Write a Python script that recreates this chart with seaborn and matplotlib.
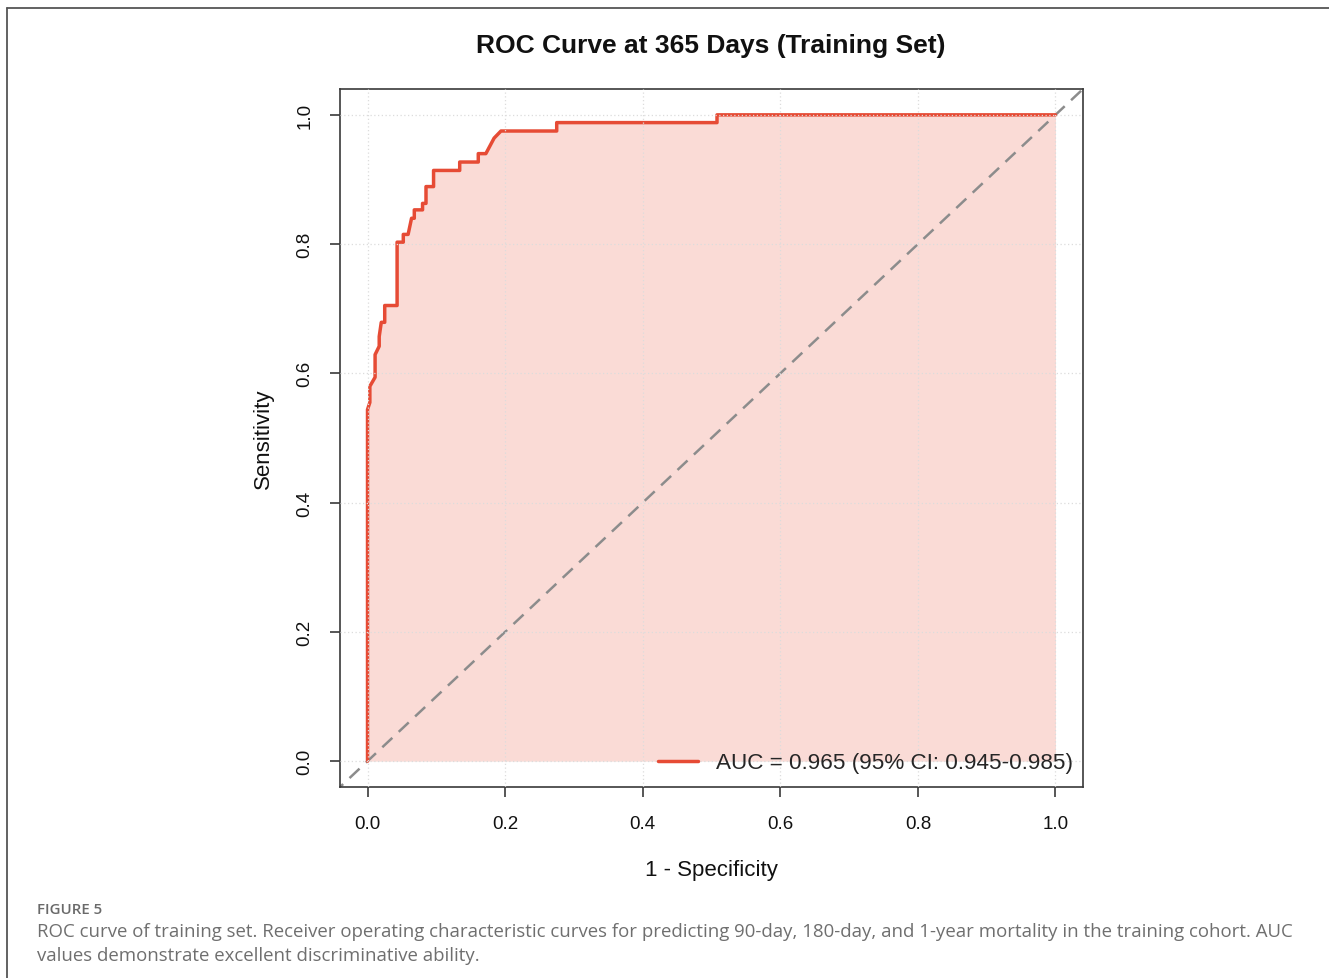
import matplotlib
matplotlib.use("Agg")
import matplotlib.pyplot as plt
import seaborn as sns
import pandas as pd
from matplotlib.lines import Line2D

# ---- data ----
fpr = [0.0, 0.0, 0.0034, 0.0034, 0.011, 0.011, 0.017, 0.017, 0.020, 0.025, 0.025,
       0.043, 0.043, 0.052, 0.052, 0.059, 0.064, 0.068, 0.068, 0.080, 0.080, 0.085,
       0.085, 0.096, 0.096, 0.134, 0.134, 0.161, 0.161, 0.172, 0.184, 0.194, 0.275,
       0.275, 0.508, 0.508, 1.0]
tpr = [0.0, 0.544, 0.555, 0.580, 0.594, 0.629, 0.642, 0.657, 0.679, 0.679, 0.705,
       0.705, 0.803, 0.803, 0.815, 0.815, 0.840, 0.840, 0.853, 0.853, 0.863, 0.863,
       0.889, 0.889, 0.914, 0.914, 0.927, 0.927, 0.940, 0.940, 0.964, 0.975, 0.975,
       0.988, 0.988, 1.0, 1.0]
ticks = [0.0, 0.2, 0.4, 0.6, 0.8, 1.0]
tick_labels = ["0.0", "0.2", "0.4", "0.6", "0.8", "1.0"]
legend_label = "AUC = 0.965 (95% CI: 0.945-0.985)"
title = "ROC Curve at 365 Days (Training Set)"
caption_head = "FIGURE 5"
caption_lines = [
    "ROC curve of training set. Receiver operating characteristic curves for predicting 90-day, 180-day, and 1-year mortality in the training cohort. AUC",
    "values demonstrate excellent discriminative ability.",
]

sns.set_theme(style="white")
plt.rcParams["font.family"] = ["Liberation Sans", "DejaVu Sans"]

W, H = 1329, 979
fig = plt.figure(figsize=(W / 100, H / 100), dpi=100)
fig.patch.set_facecolor("white")

L, R, T, B = 340, 1083, 90, 788
ax = fig.add_axes([L / W, 1 - B / H, (R - L) / W, (B - T) / H])

red = "#E64B35"
df = pd.DataFrame({"fpr": fpr, "tpr": tpr})
ax.fill_between(df["fpr"], 0, df["tpr"], color=red, alpha=0.2, linewidth=0, zorder=1)
ax.plot([-0.05, 1.05], [-0.05, 1.05], color="#8c8c8c", lw=1.8, ls=(0, (5.5, 3.5)), zorder=2)
sns.lineplot(data=df, x="fpr", y="tpr", sort=False, estimator=None, color=red,
             lw=2.5, ax=ax, zorder=3, legend=False)

ax.set_xlim(-0.04, 1.04)
ax.set_ylim(-0.04, 1.04)
ax.set_xticks(ticks)
ax.set_xticklabels(tick_labels)
ax.set_yticks(ticks)
ax.set_yticklabels(tick_labels, rotation=90, va="center")
for t in ticks:
    ax.axvline(t, color="#dcdcdc", lw=0.9, ls=(0, (1, 2)), zorder=4)
    ax.axhline(t, color="#dcdcdc", lw=0.9, ls=(0, (1, 2)), zorder=4)
ax.grid(False)

for s in ax.spines.values():
    s.set_color("#3a3a3a")
    s.set_linewidth(1.2)
ax.tick_params(axis="both", which="both", direction="out", length=7, width=1.2,
               color="#3a3a3a", labelsize=13.5, labelcolor="#111111",
               bottom=True, left=True)
ax.tick_params(axis="x", pad=13.5)
ax.tick_params(axis="y", pad=12)

ax.set_xlabel("1 - Specificity", fontsize=16, color="#111111", labelpad=19)
ax.set_ylabel("Sensitivity", fontsize=16, color="#111111", labelpad=16)

handle = Line2D([], [], color=red, lw=2.5)
ax.legend([handle], [legend_label], loc="center right",
          bbox_to_anchor=((1073 - L) / (R - L), (B - 764) / (B - T)),
          frameon=False, fontsize=16.2, handlelength=1.8, handletextpad=0.8,
          borderpad=0, borderaxespad=0)

fig.text(711 / W, 1 - 46 / H, title, ha="center", va="center", fontsize=19,
         fontweight="bold", color="#111111")

# caption
fig.text(37 / W, 1 - 910 / H, caption_head, ha="left", va="center", fontsize=10.8,
         fontweight="semibold", color="#6a6a6a", family=["Open Sans", "DejaVu Sans"])
for i, line in enumerate(caption_lines):
    fig.text(37 / W, 1 - (932 + 24 * i) / H, line, ha="left", va="center",
             fontsize=13.4, color="#6f6f6f", family=["Open Sans", "DejaVu Sans"])

# outer frame (top and left edges)
fig.add_artist(Line2D([7 / W, 1.0], [1 - 9 / H, 1 - 9 / H], transform=fig.transFigure,
                      color="#555555", lw=1.3))
fig.add_artist(Line2D([7 / W, 7 / W], [1 - 9 / H, 0.0], transform=fig.transFigure,
                      color="#555555", lw=1.3))

fig.savefig("out.png", dpi=100)
